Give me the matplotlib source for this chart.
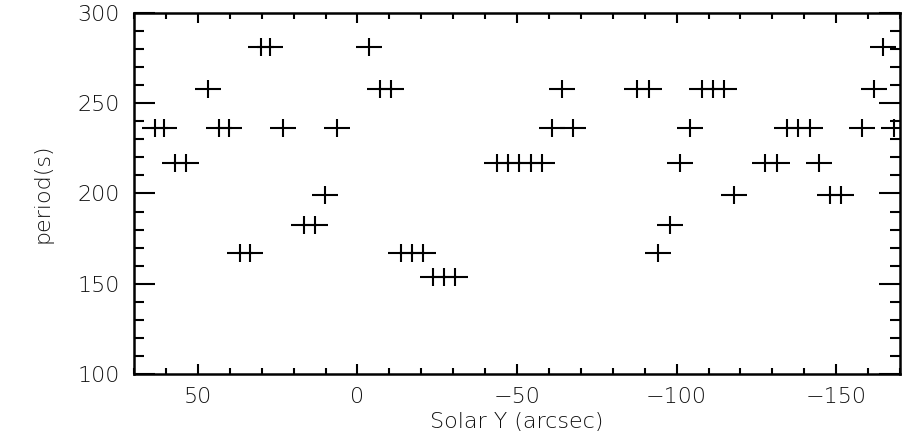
import matplotlib
matplotlib.use("Agg")
import matplotlib.pyplot as plt
from matplotlib.path import Path
from matplotlib.ticker import MultipleLocator

# period levels (s) and solar Y positions (arcsec)
p281 = [30.3, 27.3, -3.5, -164.7]
p258 = [46.9, -7.2, -10.6, -64.0, -87.7, -91.4, -107.9, -111.4, -114.7, -161.8]
p236 = [63.4, 60.5, 43.3, 40.3, 23.2, 6.4, -61.0, -67.6, -104.3,
        -134.6, -138.1, -141.7, -158.2, -168.1]
p217 = [57.0, 53.8, -43.8, -47.2, -50.7, -54.3, -57.7, -101.1,
        -127.8, -131.5, -144.6]
p199 = [10.1, -117.9, -148.2, -151.6]
p182 = [16.6, 13.4, -97.8]
p167 = [36.8, 33.6, -13.6, -17.1, -20.6, -94.3]
p154 = [-23.7, -27.2, -30.7]

levels = [281.3, 258.0, 236.5, 217.0, 199.2, 182.5, 167.2, 154.0]
groups = [p281, p258, p236, p217, p199, p182, p167, p154]

solar_y = []
period = []
for lev, xs in zip(levels, groups):
    solar_y += xs
    period += [lev] * len(xs)

plt.rcParams["font.family"] = ["DejaVu Sans"]
plt.rcParams["font.weight"] = "light"

# wide plus symbol (image is stretched horizontally)
plus = Path([(-1, 0), (1, 0), (0, -0.69), (0, 0.69)],
            [Path.MOVETO, Path.LINETO, Path.MOVETO, Path.LINETO])

fig = plt.figure(figsize=(9.03, 4.36), dpi=100)
ax = fig.add_axes([0.1484, 0.1422, 0.8483, 0.828])

ax.plot(solar_y, period, linestyle="none", marker=plus, markersize=18.7,
        markeredgewidth=1.5, color="black")

ax.set_xlim(70, -170)
ax.set_ylim(100, 300)
ax.xaxis.set_major_locator(MultipleLocator(50))
ax.xaxis.set_minor_locator(MultipleLocator(10))
ax.yaxis.set_major_locator(MultipleLocator(50))
ax.yaxis.set_minor_locator(MultipleLocator(10))

txt = "#101010"
ax.tick_params(axis="both", which="both", direction="in", top=True,
               right=True, width=1.5, colors="black", labelsize=16,
               labelcolor=txt)
ax.tick_params(axis="x", which="major", length=7, pad=9)
ax.tick_params(axis="x", which="minor", length=4)
ax.tick_params(axis="y", which="major", length=15, pad=10)
ax.tick_params(axis="y", which="minor", length=7)

for s in ax.spines.values():
    s.set_linewidth(1.8)

ax.set_xlabel("Solar Y (arcsec)", fontsize=16, color=txt, labelpad=4,
              fontweight="light")
ax.set_ylabel("period(s)", fontsize=16, color=txt, labelpad=18,
              fontweight="light")

fig.savefig("out.png", dpi=100)
